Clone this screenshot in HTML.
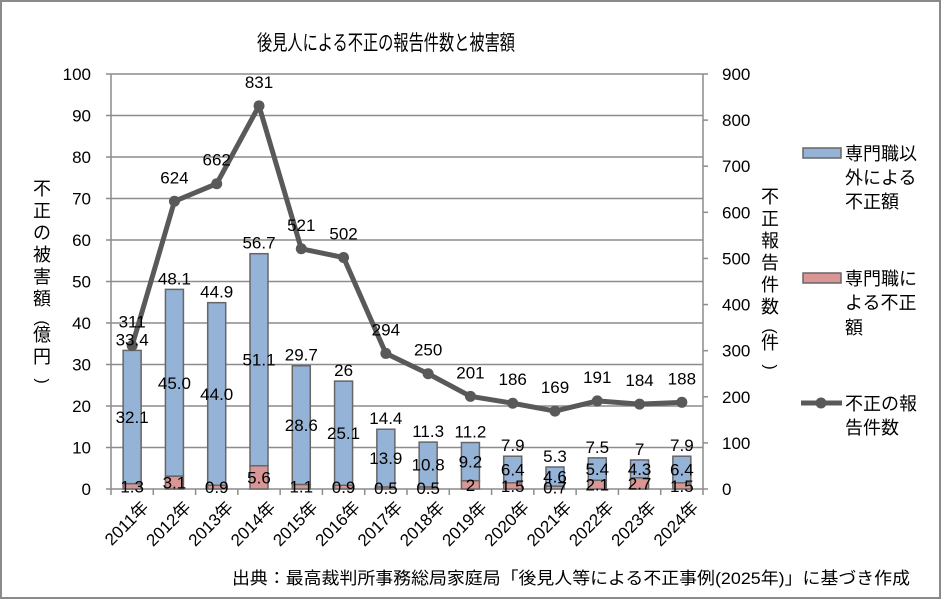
<!DOCTYPE html>
<html><head><meta charset="utf-8"><style>
html,body{margin:0;padding:0;background:#fff}
svg{display:block;font-family:"Liberation Sans","Noto Sans CJK JP",sans-serif}
</style></head><body>
<svg id="s" width="942" height="600" xmlns="http://www.w3.org/2000/svg">
<rect x="1" y="1" width="939" height="597" fill="#fff" stroke="#8a8a8a" stroke-width="2"/>
<text x="386" y="50" font-size="21" text-anchor="middle" textLength="258" lengthAdjust="spacingAndGlyphs" fill="#000">後見人による不正の報告件数と被害額</text>
<g id="g"></g>
<text x="232" y="584" font-size="17" textLength="678" lengthAdjust="spacingAndGlyphs">出典：最高裁判所事務総局家庭局「後見人等による不正事例(2025年)」に基づき作成</text>
</svg>
<script>
const g=document.getElementById('g');
let h='';
const L=111,R=703,B=489,T=74,u=(B-T)/100,cw=(R-L)/14;
for(let i=0;i<=10;i++){const y=B-i*10*u;
 h+=`<line x1="${L}" x2="${R}" y1="${y}" y2="${y}" stroke="#8c8c8c" stroke-width="1.5"/>`;
 h+=`<line x1="${L-5}" x2="${L}" y1="${y}" y2="${y}" stroke="#8c8c8c" stroke-width="1.5"/>`;
 h+=`<text x="91" y="${y+6}" font-size="17" text-anchor="end">${i*10}</text>`;}
for(let i=0;i<=9;i++){const y=B-i*100/900*100*u;
 h+=`<line x1="${R}" x2="${R+5}" y1="${y}" y2="${y}" stroke="#8c8c8c" stroke-width="1.5"/>`;
 h+=`<text x="722" y="${y+6}" font-size="17">${i*100}</text>`;}
h+=`<line x1="${L}" x2="${L}" y1="${T}" y2="${B}" stroke="#8c8c8c" stroke-width="1.5"/>`;
h+=`<line x1="${R}" x2="${R}" y1="${T}" y2="${B}" stroke="#8c8c8c" stroke-width="1.5"/>`;
for(let i=0;i<=14;i++){const x=L+i*cw;h+=`<line x1="${x}" x2="${x}" y1="${B}" y2="${B+6}" stroke="#8c8c8c" stroke-width="1.5"/>`;}
const tot=[33.4,48.1,44.9,56.7,29.7,26,14.4,11.3,11.2,7.9,5.3,7.5,7,7.9];
const red=[1.3,3.1,0.9,5.6,1.1,0.9,0.5,0.5,2,1.5,0.7,2.1,2.7,1.5];
const blu=['32.1','45.0','44.0','51.1','28.6','25.1','13.9','10.8','9.2','6.4','4.6','5.4','4.3','6.4'];
const rl=['1.3','3.1','0.9','5.6','1.1','0.9','0.5','0.5','2','1.5','0.7','2.1','2.7','1.5'];
const cnt=[311,624,662,831,521,502,294,250,201,186,169,191,184,188];
let lbl='',pts=[];
for(let i=0;i<14;i++){const c=L+cw*(i+.5),bw=18,x=c-bw/2;
 const yt=B-tot[i]*u,yr=B-red[i]*u;
 h+=`<rect x="${x}" y="${yr}" width="${bw}" height="${B-yr}" fill="#da9694" stroke="#666" stroke-width="1.5"/>`;
 h+=`<rect x="${x}" y="${yt}" width="${bw}" height="${yr-yt}" fill="#95b3d7" stroke="#666" stroke-width="1.5"/>`;
 lbl+=`<text x="${c}" y="${(yt+yr)/2+6}" font-size="17" text-anchor="middle">${blu[i]}</text>`;
 lbl+=`<text x="${c}" y="${(yr+B)/2+6}" font-size="17" text-anchor="middle">${rl[i]}</text>`;
 lbl+=`<text x="${c}" y="${yt-5}" font-size="17" text-anchor="middle">${tot[i]}</text>`;
 const py=B-cnt[i]/900*100*u;pts.push(c+','+py);
 lbl+=`<text x="${c}" y="${py-18}" font-size="17" text-anchor="middle">${cnt[i]}</text>`;
 h+=`<text transform="translate(${c+9},${B+11}) rotate(-45)" font-size="17" text-anchor="end" dominant-baseline="hanging">${2011+i}年</text>`;
}
h+=`<polyline points="${pts.join(' ')}" fill="none" stroke="#595959" stroke-width="5" stroke-linejoin="round"/>`;
pts.forEach(p=>{const[a,b]=p.split(',');h+=`<circle cx="${a}" cy="${b}" r="5.5" fill="#595959"/>`});
h+=lbl;
function vt(str,x,y0,st){let y=y0;[...str].forEach(ch=>{
 if(ch==='('||ch===')'){h+=`<text transform="translate(${x},${y-4}) rotate(90)" font-size="16" text-anchor="middle" dominant-baseline="central">${ch}</text>`;y+=14;}
 else{h+=`<text x="${x}" y="${y}" font-size="18" text-anchor="middle">${ch}</text>`;y+=st;}});}
vt('不正の被害額(億円)',42,195,22);
vt('不正報告件数(件)',770,203,22);
h+=`<rect x="803" y="148" width="38" height="10" fill="#95b3d7" stroke="#666" stroke-width="1.5"/>`;
[['専門職以',160],['外による',184],['不正額',208]].forEach(a=>h+=`<text x="845" y="${a[1]}" font-size="18">${a[0]}</text>`);
h+=`<rect x="803" y="273" width="38" height="10" fill="#da9694" stroke="#666" stroke-width="1.5"/>`;
[['専門職に',285],['よる不正',309],['額',334]].forEach(a=>h+=`<text x="845" y="${a[1]}" font-size="18">${a[0]}</text>`);
h+=`<line x1="801" x2="842" y1="403" y2="403" stroke="#595959" stroke-width="5"/><circle cx="821" cy="403" r="5.5" fill="#595959"/>`;
[['不正の報',410],['告件数',434]].forEach(a=>h+=`<text x="845" y="${a[1]}" font-size="18">${a[0]}</text>`);
g.innerHTML=h;
</script>
</body></html>
